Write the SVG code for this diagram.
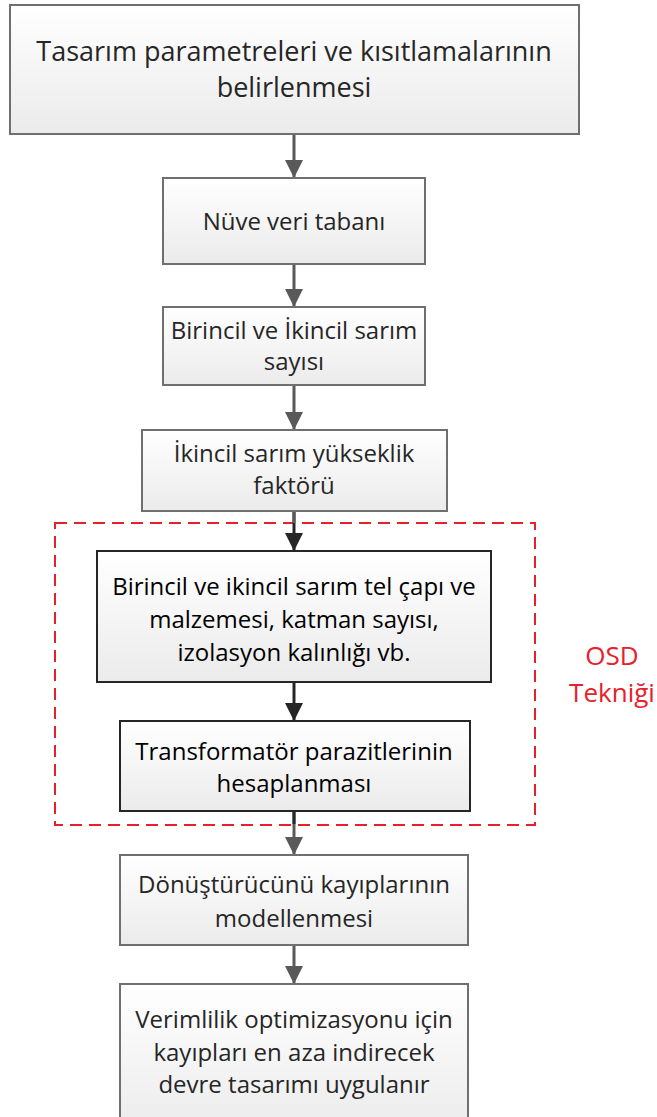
<svg xmlns="http://www.w3.org/2000/svg" width="657" height="1117" viewBox="0 0 657 1117">
<defs>
<linearGradient id="g" x1="0" y1="0" x2="0" y2="1">
<stop offset="0" stop-color="#ffffff"/>
<stop offset="1" stop-color="#ebebeb"/>
</linearGradient>
<marker id="ag" viewBox="0 0 18 18" markerWidth="18" markerHeight="18" refX="18" refY="9" orient="auto" markerUnits="userSpaceOnUse">
<path d="M0,0 L18,9 L0,18 Z" fill="#595959"/>
</marker>
<marker id="ad" viewBox="0 0 18 18" markerWidth="18" markerHeight="18" refX="18" refY="9" orient="auto" markerUnits="userSpaceOnUse">
<path d="M0,0 L18,9 L0,18 Z" fill="#262626"/>
</marker>
</defs>
<style>
.box{fill:url(#g);stroke:#6f6f6f;stroke-width:2}
.dbox{fill:url(#g);stroke:#262626;stroke-width:2}
.t{font-family:"Open Sans","Noto Sans",sans-serif;font-size:24px;fill:#262626;text-anchor:middle}
.tk{fill:#000}
.big{font-size:27px}
.red{fill:#e8202a;font-size:26px}
.cg{stroke:#595959;stroke-width:3;fill:none}
.cd{stroke:#262626;stroke-width:3;fill:none}
</style>
<rect width="657" height="1117" fill="#ffffff"/>
<g id="osd">
<rect x="55" y="523" width="480" height="302" fill="none" stroke="#e8202a" stroke-width="2" stroke-dasharray="12 7"/>
<text class="t red" x="612" y="665">OSD</text>
<text class="t red" x="612" y="702">Tekniği</text>
</g>
<g id="connectors">
<line class="cg" x1="294" y1="135" x2="294" y2="178" marker-end="url(#ag)"/>
<line class="cg" x1="294" y1="265" x2="294" y2="307" marker-end="url(#ag)"/>
<line class="cg" x1="294" y1="386" x2="294" y2="430" marker-end="url(#ag)"/>
<line class="cd" x1="294" y1="512" x2="294" y2="551" marker-end="url(#ad)"/>
<line class="cg" x1="294" y1="512" x2="294" y2="523"/>
<line class="cd" x1="294" y1="683" x2="294" y2="721" marker-end="url(#ad)"/>
<line class="cg" x1="294" y1="812" x2="294" y2="855" marker-end="url(#ag)"/>
<line class="cd" x1="294" y1="812" x2="294" y2="824"/>
<line class="cg" x1="294" y1="946" x2="294" y2="984" marker-end="url(#ag)"/>
</g>
<g id="n1">
<rect class="box" x="10" y="5" width="569" height="129"/>
<text class="t big" x="294" y="61">Tasarım parametreleri ve kısıtlamalarının</text>
<text class="t big" x="294" y="97">belirlenmesi</text>
</g>
<g id="n2">
<rect class="box" x="163" y="178" width="262" height="86"/>
<text class="t" x="294" y="230">Nüve veri tabanı</text>
</g>
<g id="n3">
<rect class="box" x="163" y="307" width="262" height="78"/>
<text class="t" x="294" y="339">Birincil ve İkincil sarım</text>
<text class="t" x="294" y="370">sayısı</text>
</g>
<g id="n4">
<rect class="box" x="142" y="430" width="305" height="81"/>
<text class="t" x="294" y="462">İkincil sarım yükseklik</text>
<text class="t" x="294" y="494">faktörü</text>
</g>
<g id="n5">
<rect class="dbox" x="97" y="551" width="394" height="131"/>
<text class="t tk" x="294" y="595">Birincil ve ikincil sarım tel çapı ve</text>
<text class="t tk" x="294" y="628">malzemesi, katman sayısı,</text>
<text class="t tk" x="294" y="661">izolasyon kalınlığı vb.</text>
</g>
<g id="n6">
<rect class="dbox" x="120" y="721" width="350" height="90"/>
<text class="t tk" x="294" y="760">Transformatör parazitlerinin</text>
<text class="t tk" x="294" y="792">hesaplanması</text>
</g>
<g id="n7">
<rect class="box" x="120" y="855" width="348" height="90"/>
<text class="t" x="294" y="893">Dönüştürücünü kayıplarının</text>
<text class="t" x="294" y="927">modellenmesi</text>
</g>
<g id="n8">
<rect class="box" x="120" y="984" width="348" height="150"/>
<text class="t" x="294" y="1028">Verimlilik optimizasyonu için</text>
<text class="t" x="294" y="1061">kayıpları en aza indirecek</text>
<text class="t" x="294" y="1093">devre tasarımı uygulanır</text>
</g>
</svg>
